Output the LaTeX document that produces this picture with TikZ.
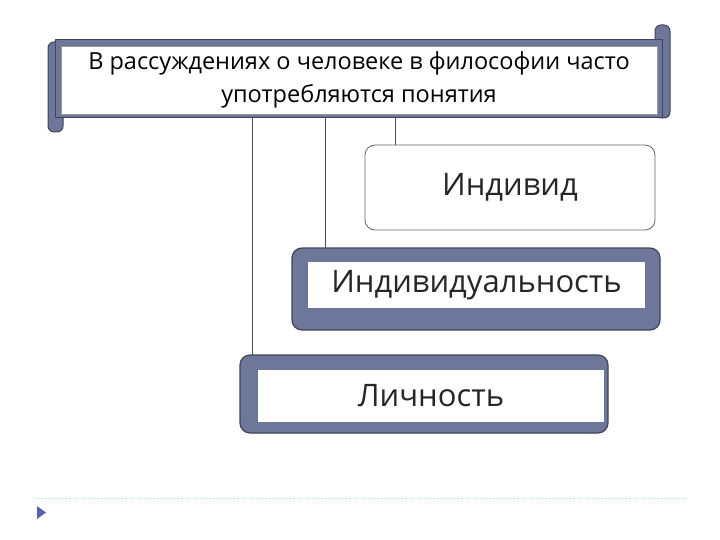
\documentclass[tikz,border=0pt]{standalone}
\usepackage{fontspec}
\setmainfont{Open Sans}
\begin{document}
\begin{tikzpicture}[x=1pt,y=-1pt,
  slate/.style={fill=fillc,draw=edgec,line width=1.2pt},
  inner/.style={fill=white,draw=none},
  link/.style={draw=black!70,line width=0.8pt},
  lbl/.style={font=\fontsize{31}{36}\selectfont,text=black!85}]
\definecolor{fillc}{HTML}{6E7799}
\definecolor{edgec}{HTML}{40435A}
\useasboundingbox (0,0) rectangle (720,540);
% connectors
\coordinate (c1) at (395,118); \coordinate (c2) at (325,118); \coordinate (c3) at (252,118);
% Индивид
\node[draw=black!60,line width=0.8pt,rounded corners=10pt,fill=white,minimum width=290pt,minimum height=85pt,lbl] (ind) at (510,187.5) {Индивид};
% Индивидуальность
\draw[slate,rounded corners=10pt] (292,248) rectangle (660,330);
\node[inner,minimum width=337pt,minimum height=46pt,lbl] (indv) at (476.5,285) {Индивидуальность};
% Личность
\draw[slate,rounded corners=10pt] (240,355) rectangle (608,433);
\node[inner,minimum width=346pt,minimum height=52pt,lbl] (lich) at (431,396) {Личность};
\draw[link] (c1) -- (c1 |- ind.north);
\draw[link] (c2) -- (325,248);
\draw[link] (c3) -- (252,355);
% scroll
\draw[slate,line width=1pt,rounded corners=6pt] (655,25) rectangle (670,118);
\draw[slate,line width=1pt,rounded corners=6pt] (48,42) rectangle (63,132);
\draw[slate,line width=1pt] (55,40) rectangle (662,118);
\node[fill=white,draw=black!40,minimum width=596pt,minimum height=68pt,align=center,font=\fontsize{23.5}{33}\selectfont] (head) at (359,80) {В рассуждениях о человеке в философии часто\\употребляются понятия};
% footer
\draw[color=blue!30!cyan!40,dotted,line width=0.8pt] (35,498) -- (685,498);
\fill[fillc!80!blue] (37,506) -- (46,512.5) -- (37,519) -- cycle;
\end{tikzpicture}
\end{document}
